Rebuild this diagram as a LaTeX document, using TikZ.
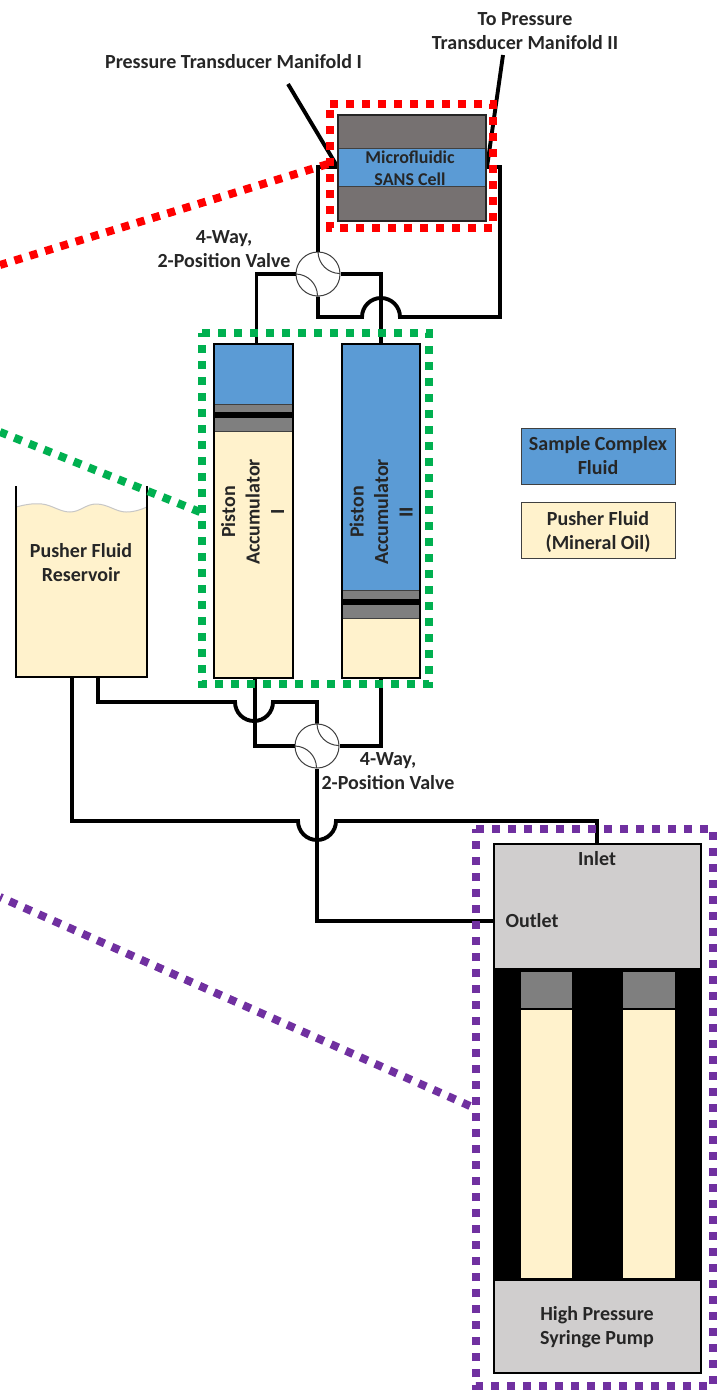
\documentclass[tikz,border=0pt]{standalone}
\usepackage{fontspec}
\setmainfont{Carlito}
\definecolor{sampleblue}{HTML}{5B9BD5}
\definecolor{cream}{HTML}{FFF2CC}
\definecolor{cellgray}{HTML}{767171}
\definecolor{midgray}{HTML}{7F7F7F}
\definecolor{pumpgray}{HTML}{D0CECE}
\definecolor{dred}{HTML}{FF0000}
\definecolor{dgreen}{HTML}{00B050}
\definecolor{dpurple}{HTML}{7030A0}
\tikzset{
  pipe/.style={draw=black,line width=3.9pt,line join=miter},
  leader/.style={draw=black,line width=3.9pt},
  dots/.style={line width=8pt,dash pattern=on 8pt off 8pt},
  block/.style={draw=black,line width=2.8pt,inner sep=0pt,minimum width=0pt},
  label/.style={font=\fontsize{20}{24}\bfseries,align=center,text=black!85,inner sep=0pt},
  valve/.style={circle,draw=black!75,line width=1pt,minimum size=44pt,inner sep=0pt},
  valvearc/.style={draw=black!75,line width=1pt},
}
\begin{document}
\begin{tikzpicture}[x=1pt,y=-1pt]
\useasboundingbox (0,0) rectangle (721,1390);
\fill[white] (0,0) rectangle (721,1390);

% named anchors for the boxes
\coordinate (cellNW) at (338,115); \coordinate (cellSE) at (486,221);
\coordinate (cellL) at (338,167); \coordinate (cellR) at (486,167);
\coordinate (acc1T) at (257,344); \coordinate (acc2T) at (381,344);
\coordinate (acc1B) at (255,678); \coordinate (acc2B) at (381,678);
\coordinate (resA) at (72,678); \coordinate (resB) at (98,678);
\coordinate (pumpIn) at (597,843); \coordinate (pumpOut) at (494,921);

\node[valve] (v1) at (318,274) {};
\node[valve] (v2) at (317,746) {};

% pipes
\draw[pipe] (v1.north) |- (cellL);
\draw[pipe] (v1.west) -- ++(-39,0) coordinate (a) -- (a |- acc1T);
\draw[pipe] (v1.east) -| (acc2T);
\coordinate (bA) at (362,317); \coordinate (bB) at (400,317);
\draw[pipe] (v1.south) |- (bA) arc[start angle=180,end angle=0,radius=19pt] -- (bB) -- (500,317) |- (cellR);
\draw[pipe] (acc1B) |- (v2.west);
\draw[pipe] (acc2B) |- (v2.east);
\coordinate (bC) at (273,702); \coordinate (bD) at (235,702);
\draw[pipe] (v2.north) |- (bC) arc[start angle=0,end angle=-180,radius=19pt] -- (bD) -| (resB);
\draw[pipe] (v2.south) |- (pumpOut);
\coordinate (bE) at (298,821); \coordinate (bF) at (336,821);
\draw[pipe] (resA) |- (bE) arc[start angle=180,end angle=360,radius=19pt] -- (bF) -| (pumpIn);

% leaders
\coordinate (l1) at (288,84); \coordinate (l2) at (503,55);
\draw[leader] (l1) -- (337,166);
\draw[leader] (l2) -- (487,167);

% valve inner arcs
\draw[valvearc] (v1.north) arc[start angle=180,end angle=270,radius=22pt];
\draw[valvearc] (v1.west) arc[start angle=90,end angle=0,radius=22pt];
\draw[valvearc] (v2.north) arc[start angle=180,end angle=270,radius=22pt];
\draw[valvearc] (v2.west) arc[start angle=90,end angle=0,radius=22pt];

% microfluidic cell
\fill[cellgray] (cellNW) rectangle (cellSE);
\fill[sampleblue] (338,148) rectangle (486,186);
\draw[black!75,line width=1pt] (338,148) -- (486,148) (338,186) -- (486,186);
\draw[draw=black!85,line width=2.2pt] (cellNW) rectangle (cellSE);

% accumulator I
\fill[sampleblue] (214,344) rectangle (293,404);
\fill[midgray] (214,404) rectangle (293,431);
\fill[black] (214,412) rectangle (293,418);
\fill[cream] (214,431) rectangle (293,678);
\draw[black!75,line width=.8pt] (214,404) -- (293,404) (214,431) -- (293,431);
\draw[block] (214,344) rectangle (293,678);

% accumulator II
\fill[sampleblue] (342,344) rectangle (420,590);
\fill[midgray] (342,590) rectangle (420,618);
\fill[black] (342,599) rectangle (420,605);
\fill[cream] (342,618) rectangle (420,678);
\draw[black!75,line width=.8pt] (342,590) -- (420,590) (342,618) -- (420,618);
\draw[block] (342,344) rectangle (420,678);

% reservoir
\fill[cream] (16,507) .. controls (24,505) and (32,503) .. (42,504) .. controls (52,505) and (60,512) .. (70,512)
  .. controls (80,512) and (86,504) .. (96,504) .. controls (108,504) and (116,512) .. (126,512)
  .. controls (134,512) and (140,510) .. (147,507) -- (147,677) -- (16,677) -- cycle;
\draw[black!22,line width=1pt] (16,507) .. controls (24,505) and (32,503) .. (42,504) .. controls (52,505) and (60,512) .. (70,512)
  .. controls (80,512) and (86,504) .. (96,504) .. controls (108,504) and (116,512) .. (126,512)
  .. controls (134,512) and (140,510) .. (147,507);
\draw[draw=black,line width=2.8pt] (16,486) -- (16,677) -- (147,677) -- (147,486);

% pump
\fill[black] (493,843) rectangle (702,1374);
\fill[pumpgray] (495,845) rectangle (700,968);
\fill[pumpgray] (495,1281) rectangle (700,1372);
\fill[midgray] (521,972) rectangle (572,1008);
\fill[midgray] (623,972) rectangle (675,1008);
\fill[cream] (521,1010) rectangle (572,1278);
\fill[cream] (623,1010) rectangle (675,1278);

% legend
\node[draw=black!75,line width=1pt,fill=sampleblue,minimum width=154pt,minimum height=56pt,label] (legA) at (598,456) {Sample Complex\\Fluid};
\node[draw=black!75,line width=1pt,fill=cream,minimum width=154pt,minimum height=56pt] (legB) at (598,530) {};
\node[label] (legBt) at (598,532) {Pusher Fluid\\(Mineral Oil)};

% dotted callouts
\draw[dots,dred] (330,104) -- (493,104) -- (493,228) -- (330,228) -- cycle;
\draw[dots,dgreen] (202,333) -- (429,333) -- (429,684) -- (202,684) -- cycle;
\draw[dots,dpurple] (476,829) -- (713,829) -- (713,1386) -- (476,1386) -- cycle;
\draw[dots,dred] (328,164) -- (0,265);
\draw[dots,dgreen] (200,512) -- (0,432);
\draw[dots,dpurple] (470,1106) -- (0,897);

% text
\node[label] (t1) at (233.5,62) {Pressure Transducer Manifold I};
\node[label] (t2) at (525,31) {To Pressure\\Transducer Manifold II};
\node[label] (t3) at (224,249) {4-Way,\\2-Position Valve};
\node[label] (t4) at (388,771) {4-Way,\\2-Position Valve};
\node[label,font=\fontsize{18}{22}\bfseries] (t5) at (410,168) {Microfluidic\\SANS Cell};
\node[label] (t6) at (81,563) {Pusher Fluid\\Reservoir};
\node[label,rotate=90,font=\fontsize{20}{24.5}\bfseries] (t7) at (252.5,512) {Piston\\Accumulator\\I};
\node[label,rotate=90,font=\fontsize{20}{24.5}\bfseries] (t8) at (381,512) {Piston\\Accumulator\\II};
\node[label] (t9) at (597,859) {Inlet};
\node[label] (t10) at (532,921) {Outlet};
\node[label] (t11) at (597,1327) {High Pressure\\Syringe Pump};
\end{tikzpicture}
\end{document}
